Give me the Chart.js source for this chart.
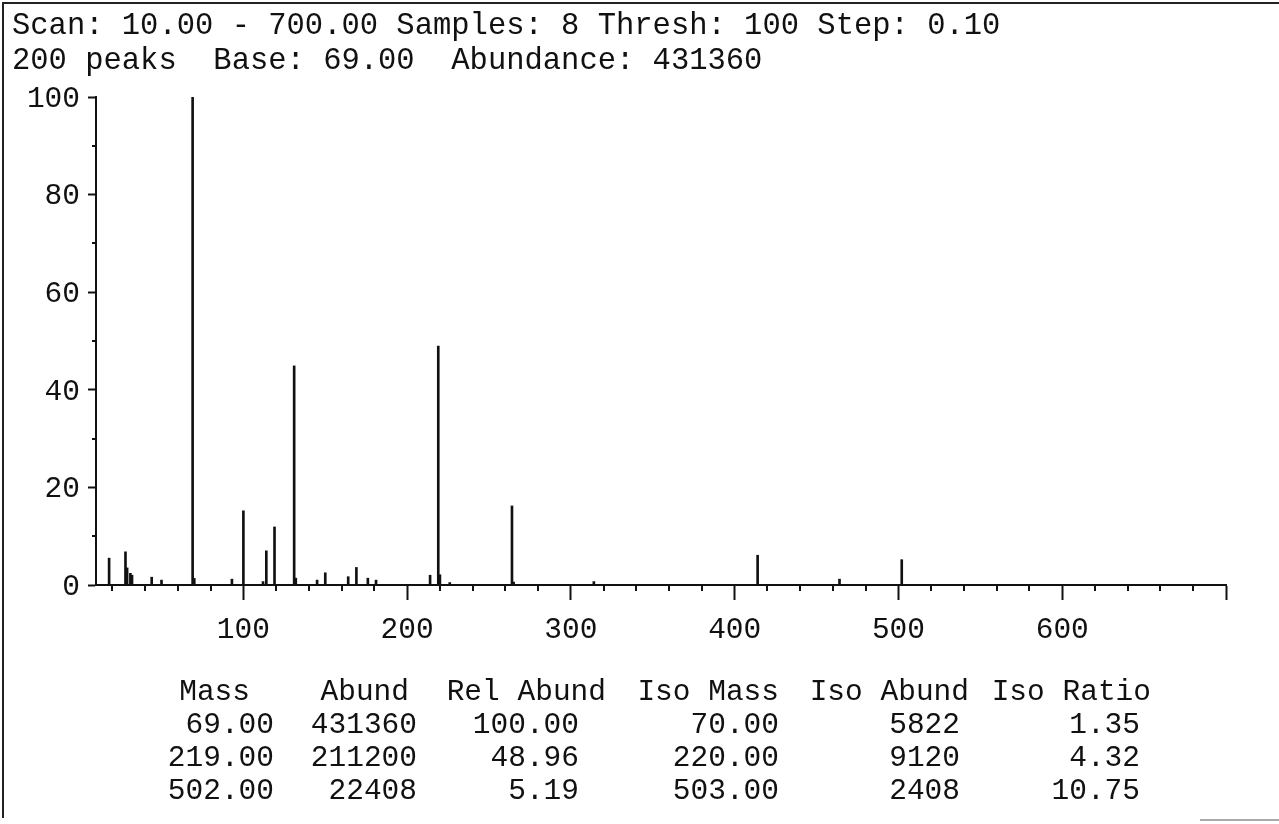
<!DOCTYPE html>
<html><head><meta charset="utf-8">
<script src="https://cdn.jsdelivr.net/npm/chart.js"></script>
<style>
html,body{margin:0;padding:0;background:#fff;}
#wrap{position:relative;width:1279px;height:824px;overflow:hidden;background:#fff;}
#c{position:absolute;left:0;top:0;}
.t{position:absolute;font-family:"Liberation Mono",monospace;font-size:29.5px;line-height:30px;color:#111;white-space:pre;}
.h{font-size:30.5px;}
.r{text-align:right;}
#frame{position:absolute;left:2px;top:2px;width:1290px;height:814px;border-top:2px solid #222;border-left:2px solid #222;}
#br{position:absolute;left:1200px;top:819px;width:79px;height:2px;background:#aaa;}
</style></head><body>
<div id="wrap">
<div id="frame"></div>
<div id="br"></div>
<canvas id="c" width="1279" height="824"></canvas>
<div class="t h" style="left:12px;top:11px">Scan: 10.00 - 700.00 Samples: 8 Thresh: 100 Step: 0.10</div>
<div class="t h" style="left:12px;top:46px">200 peaks  Base: 69.00  Abundance: 431360</div>
<div id="table"></div>
</div>
<script>
// ---- spectrum data (m/z and relative abundance, %) ----
const masses   = [18, 28, 29, 31, 32, 44, 50, 69, 70, 93, 100, 112, 114, 119, 131, 132, 145, 150, 164, 169, 176, 181, 214, 219, 220, 226, 264, 265, 314, 414, 464, 502];
const relAbund = [5.5, 6.8, 3.5, 2.4, 2.0, 1.6, 1.0, 100, 1.35, 1.2, 15.2, 0.7, 7.0, 11.9, 44.9, 1.4, 1.0, 2.5, 1.7, 3.6, 1.4, 1.0, 2.0, 48.96, 2.1, 0.5, 16.2, 0.6, 0.7, 6.1, 1.2, 5.19];
const xTickLabels = [100, 200, 300, 400, 500, 600];
const yTickLabels = [0, 20, 40, 60, 80, 100];

// ---- peak table ----
const tableHeaders = ["Mass", "Abund", "Rel Abund", "Iso Mass", "Iso Abund", "Iso Ratio"];
const colMass     = ["69.00", "219.00", "502.00"];
const colAbund    = ["431360", "211200", "22408"];
const colRelAbund = ["100.00", "48.96", "5.19"];
const colIsoMass  = ["70.00", "220.00", "503.00"];
const colIsoAbund = ["5822", "9120", "2408"];
const colIsoRatio = ["1.35", "4.32", "10.75"];

(function buildTable(){
  const headRight = [250, 409, 606, 779, 969, 1151];
  const valRight  = [274, 417, 579, 779, 960, 1140];
  const cols = [colMass, colAbund, colRelAbund, colIsoMass, colIsoAbund, colIsoRatio];
  const rowTops = [710, 743, 776];
  const t = document.getElementById('table');
  let html = '';
  tableHeaders.forEach((h, i) => {
    html += `<div class="t r" style="right:${1279 - headRight[i]}px;top:677px">${h}</div>`;
  });
  cols.forEach((col, i) => {
    col.forEach((v, r) => {
      html += `<div class="t r" style="right:${1279 - valRight[i]}px;top:${rowTops[r]}px">${v}</div>`;
    });
  });
  t.innerHTML = html;
})();

const FONT = {family: 'Liberation Mono', size: 29.5};

const minorTicks = {
  id: 'minorTicks',
  afterDraw(chart) {
    const c = chart.ctx, xs = chart.scales.x, ys = chart.scales.y;
    c.save();
    c.strokeStyle = '#111';
    c.lineWidth = 2;
    for (let v = 20; v < 700; v += 20) {
      if (v % 100 === 0) continue;
      const px = Math.round(xs.getPixelForValue(v));
      c.beginPath(); c.moveTo(px, ys.bottom - 1); c.lineTo(px, ys.bottom + 6); c.stroke();
    }
    for (let v = 10; v < 100; v += 20) {
      const py = Math.round(ys.getPixelForValue(v));
      c.beginPath(); c.moveTo(xs.left - 4, py); c.lineTo(xs.left, py); c.stroke();
    }
    c.restore();
  }
};

new Chart(document.getElementById('c'), {
  type: 'bar',
  data: {
    datasets: [{
      data: masses.map((m, i) => ({x: m, y: relAbund[i]})),
      backgroundColor: '#111',
      borderWidth: 0,
      barThickness: 2
    }]
  },
  options: {
    responsive: false,
    animation: false,
    layout: {padding: {left: 0, top: 97, right: 53, bottom: 179}},
    plugins: {legend: {display: false}, tooltip: {enabled: false}},
    scales: {
      x: {
        type: 'linear', min: 10, max: 700, offset: false,
        ticks: {
          stepSize: 20, autoSkip: false, maxRotation: 0, minRotation: 0,
          font: FONT, color: '#111', padding: 12,
          callback: v => xTickLabels.includes(v) ? String(v) : ''
        },
        grid: {
          display: true, offset: false, drawOnChartArea: false, tickLength: 15, tickWidth: 2,
          tickColor: ctx => (ctx.tick && (ctx.tick.value % 100 === 0)) ? '#111' : 'rgba(0,0,0,0)'
        },
        border: {display: true, color: '#111', width: 2},
        afterFit: s => { s.height = 60; }
      },
      y: {
        min: 0, max: 100,
        ticks: {
          stepSize: 10, autoSkip: false, labelOffset: 2,
          font: FONT, color: '#111', padding: 8,
          callback: v => yTickLabels.includes(v) ? String(v) : ''
        },
        grid: {
          display: true, offset: false, drawOnChartArea: false, tickLength: 8, tickWidth: 2,
          tickColor: ctx => (ctx.tick && (ctx.tick.value % 20 === 0)) ? '#111' : 'rgba(0,0,0,0)'
        },
        border: {display: true, color: '#111', width: 2},
        afterFit: s => { s.width = 96; }
      }
    }
  },
  plugins: [minorTicks]
});
</script>
</body></html>
